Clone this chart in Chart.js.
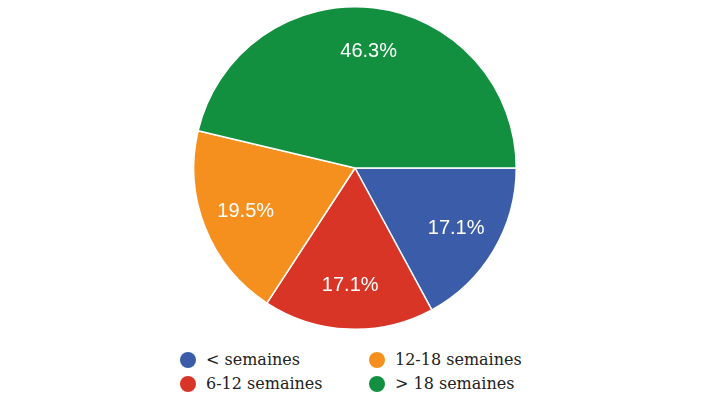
<!DOCTYPE html>
<html>
<head>
<meta charset="utf-8">
<script src="https://cdn.jsdelivr.net/npm/chart.js@4/dist/chart.umd.min.js"></script>
<style>
    body { margin: 0; background: #fff; width: 707px; height: 409px; overflow: hidden; }
    #wrap { position: absolute; left: 0; top: 0; width: 707px; height: 336px; }
    #legend {
        position: absolute; left: 180px; top: 348px;
        display: grid; grid-auto-flow: column;
        grid-template-rows: 24px 24px; grid-template-columns: 189px 170px;
        font-family: "DejaVu Serif", serif; font-size: 16px; color: #222;
    }
    .item { display: flex; align-items: center; line-height: 24px; white-space: nowrap; }
    .dot { width: 16px; height: 16px; border-radius: 50%; margin-right: 10px; }
</style>
</head>
<body>
<div id="wrap"><canvas id="pieChart"></canvas></div>
<div id="legend"></div>
<script>
// Données du graphique
const categories = ['< semaines', '6-12 semaines', '12-18 semaines', '> 18 semaines'];
const percents = [17.1, 17.1, 19.5, 46.3];
const sliceColors = ['#3b5da9', '#d93526', '#f5901e', '#13903f'];

// Étiquettes de pourcentage dans les parts
const sliceLabels = {
    id: 'sliceLabels',
    afterDatasetsDraw(chart) {
        const ctx = chart.ctx;
        const meta = chart.getDatasetMeta(0);
        ctx.save();
        ctx.fillStyle = '#ffffff';
        ctx.font = '20px "Liberation Sans", Arial, sans-serif';
        ctx.textAlign = 'center';
        ctx.textBaseline = 'middle';
        meta.data.forEach((arc, i) => {
            const p = arc.getProps(['x', 'y', 'startAngle', 'endAngle', 'outerRadius'], true);
            const mid = (p.startAngle + p.endAngle) / 2;
            const r = p.outerRadius * 0.73;
            ctx.fillText(percents[i].toFixed(1) + '%', p.x + Math.cos(mid) * r, p.y + Math.sin(mid) * r);
        });
        ctx.restore();
    }
};

const chart = new Chart(document.getElementById('pieChart'), {
    type: 'pie',
    data: {
        labels: categories,
        datasets: [{
            data: percents,
            backgroundColor: sliceColors,
            borderColor: '#ffffff',
            borderWidth: 1.5
        }]
    },
    options: {
        responsive: true,
        maintainAspectRatio: false,
        animation: false,
        rotation: 90,
        layout: { padding: { top: 6, bottom: 6, left: 3 } },
        plugins: {
            legend: { display: false },
            tooltip: { enabled: false }
        }
    },
    plugins: [sliceLabels]
});

// Légende en deux colonnes
const legend = document.getElementById('legend');
categories.forEach((label, i) => {
    const item = document.createElement('div');
    item.className = 'item';
    const dot = document.createElement('span');
    dot.className = 'dot';
    dot.style.background = sliceColors[i];
    const text = document.createElement('span');
    text.textContent = label;
    item.appendChild(dot);
    item.appendChild(text);
    legend.appendChild(item);
});
</script>
</body>
</html>
